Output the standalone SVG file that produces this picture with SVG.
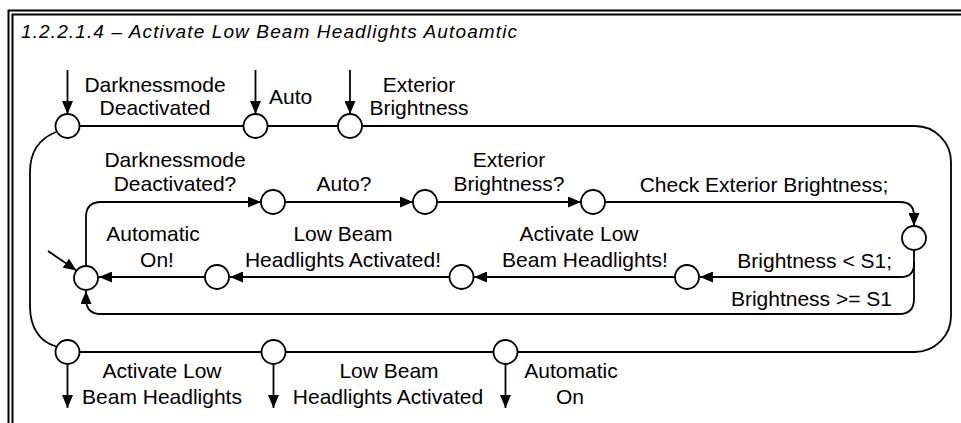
<svg xmlns="http://www.w3.org/2000/svg" width="961" height="423" viewBox="0 0 961 423">
<defs>
<marker id="ah" viewBox="0 0 13 11" refX="13" refY="5.5" markerWidth="13" markerHeight="11" markerUnits="userSpaceOnUse" orient="auto">
<path d="M0,0 L13,5.5 L0,11 z" fill="#000"/>
</marker>
<style>
.t{font-family:"Liberation Sans",Arial,sans-serif;font-size:21px;fill:#000}
.m{text-anchor:middle}
.e{text-anchor:end}
.ln{fill:none;stroke:#000;stroke-width:1.8}
.ar{fill:none;stroke:#000;stroke-width:1.8;marker-end:url(#ah)}
.st{fill:#fff;stroke:#000;stroke-width:1.8}
.fr{fill:none;stroke:#000;stroke-width:2}
</style>
</defs>
<rect width="961" height="423" fill="#fff"/>
<g id="frame">
<path class="fr" d="M8.5,423 V10.5 H961"/>
<path class="fr" d="M12.5,423 V14.5 H961"/>
<text x="21" y="37.5" font-family="Liberation Sans, Arial, sans-serif" font-size="19" font-style="italic" textLength="496" lengthAdjust="spacing">1.2.2.1.4 – Activate Low Beam Headlights Autoamtic</text>
</g>
<g id="connectors">
<path class="ln" d="M79,126 H243 M267,126 H338 M362,126 H915 A36,36 0 0 1 951,162 V316 A36,36 0 0 1 915,352 H517.5 M493.5,352 H285.5 M261.5,352 H79"/>
<path class="ln" d="M56,132 C41,138 30,150 30,172 V306 C30,328 40,342 56,346.5"/>
<path class="ar" d="M67.5,70 V114"/>
<path class="ar" d="M255.5,70 V114"/>
<path class="ar" d="M350,70 V114"/>
<path class="ar" d="M67.5,364 V408"/>
<path class="ar" d="M273.5,364 V408"/>
<path class="ar" d="M505.5,364 V408"/>
<path class="ar" d="M86,266 V217 Q86,202 101,202 H261"/>
<path class="ar" d="M285,202 H413"/>
<path class="ar" d="M437,202 H581"/>
<path class="ar" d="M605,202 H900 Q914,202 914,216 V226"/>
<path class="ar" d="M914,250 V264 Q914,277 901,277 H700"/>
<path class="ar" d="M675,277 H474"/>
<path class="ar" d="M449,277 H230"/>
<path class="ar" d="M205,277 H99"/>
<path class="ar" d="M914,262 V299 Q914,314 899,314 H101 Q86,314 86,299 V291"/>
<path class="ar" d="M48,251 L76.5,270.5"/>
</g>
<g id="n_in1"><circle class="st" cx="67.5" cy="126" r="12"/></g>
<g id="n_in2"><circle class="st" cx="255.5" cy="126" r="12"/></g>
<g id="n_in3"><circle class="st" cx="350" cy="126" r="12"/></g>
<g id="n_out1"><circle class="st" cx="67.5" cy="352" r="12"/></g>
<g id="n_out2"><circle class="st" cx="273.5" cy="352" r="12"/></g>
<g id="n_out3"><circle class="st" cx="505.5" cy="352" r="12"/></g>
<g id="n_s0"><circle class="st" cx="86" cy="278" r="12"/></g>
<g id="n_s1"><circle class="st" cx="273" cy="202" r="12"/></g>
<g id="n_s2"><circle class="st" cx="425" cy="202" r="12"/></g>
<g id="n_s3"><circle class="st" cx="593" cy="202" r="12"/></g>
<g id="n_s4"><circle class="st" cx="914" cy="238" r="12"/></g>
<g id="n_s5"><circle class="st" cx="687" cy="277" r="12"/></g>
<g id="n_s6"><circle class="st" cx="461.5" cy="277" r="12"/></g>
<g id="n_s7"><circle class="st" cx="217" cy="277" r="12"/></g>
<g id="labels">
<text class="t m" x="155" y="92">Darknessmode</text>
<text class="t m" x="155" y="115">Deactivated</text>
<text class="t" x="269" y="103.5">Auto</text>
<text class="t m" x="419" y="92">Exterior</text>
<text class="t m" x="419" y="115">Brightness</text>
<text class="t m" x="175" y="167">Darknessmode</text>
<text class="t m" x="175" y="191">Deactivated?</text>
<text class="t m" x="344" y="191">Auto?</text>
<text class="t m" x="509" y="167">Exterior</text>
<text class="t m" x="509" y="191">Brightness?</text>
<text class="t m" x="764" y="192">Check Exterior Brightness;</text>
<text class="t m" x="153" y="241">Automatic</text>
<text class="t m" x="157" y="267">On!</text>
<text class="t m" x="343" y="241">Low Beam</text>
<text class="t m" x="343" y="267">Headlights Activated!</text>
<text class="t m" x="579" y="241">Activate Low</text>
<text class="t m" x="585" y="267">Beam Headlights!</text>
<text class="t e" x="892" y="268">Brightness &lt; S1;</text>
<text class="t e" x="892" y="306">Brightness &gt;= S1</text>
<text class="t m" x="162" y="378">Activate Low</text>
<text class="t m" x="162" y="404">Beam Headlights</text>
<text class="t m" x="389" y="378">Low Beam</text>
<text class="t m" x="388" y="404">Headlights Activated</text>
<text class="t m" x="571" y="378">Automatic</text>
<text class="t m" x="570" y="404">On</text>
</g>
</svg>
